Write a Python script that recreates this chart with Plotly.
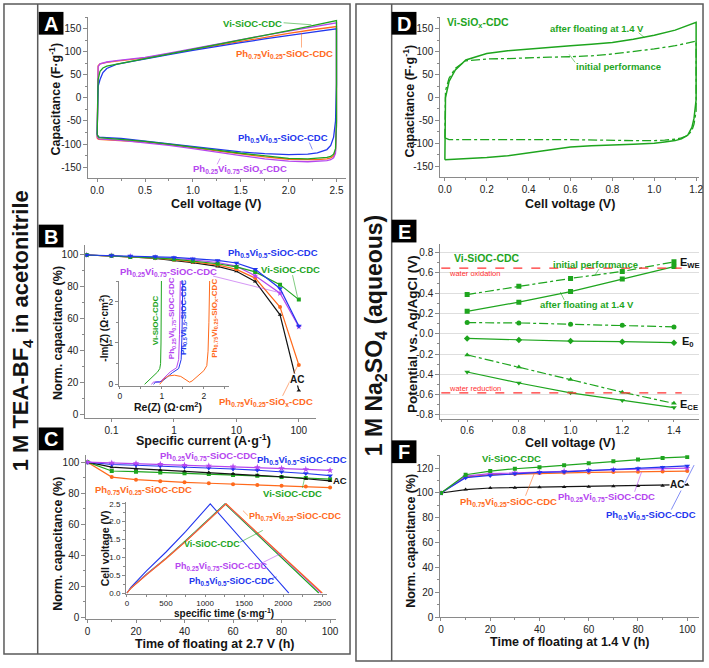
import plotly.graph_objects as go

W, H = 709, 668
FONT = "Liberation Sans, Arial, sans-serif"

GREEN = "#1ea51e"
ORANGE = "#ff6a1c"
BLUE = "#2236ee"
PURPLE = "#b546ef"
BLACK = "#141414"
RED = "#ff3030"
AXC = "#8a8a8a"
FRAME = "#5a5a5a"

# ---------------- Panel A: CV in 1 M TEA-BF4 / acetonitrile ----------------
A_V_UP = [0.0, 0.01, 0.03, 0.06, 0.1, 0.2, 0.35, 0.5, 0.75, 1.0, 1.25, 1.5, 1.75, 2.0, 2.25, 2.5]
A_VI_UP = [-80, 40, 58, 65, 69, 73, 79, 85, 95, 106, 116, 126, 136, 146, 157, 168]
A_PH75_UP = [-88, 70, 74, 76, 77, 80, 83, 87, 96, 105, 114, 123, 132, 140, 148, 155]
A_PH50_UP = [-80, 25, 40, 55, 64, 73, 79, 85, 94, 103, 112, 120, 128, 136, 143, 150]
A_PH25_UP = [-85, 68, 74, 76, 78, 81, 84, 88, 97, 107, 117, 127, 136, 145, 154, 163]
A_V_DN = [2.5, 2.49, 2.47, 2.44, 2.4, 2.3, 2.2, 2.0, 1.75, 1.5, 1.25, 1.0, 0.75, 0.5, 0.25, 0.1, 0.02, 0.0]
A_VI_DN = [-50, -110, -122, -127, -129, -131, -132, -131, -126, -120, -113, -106, -100, -94, -89, -87, -86, -80]
A_PH75_DN = [-60, -115, -126, -130, -132, -134, -134, -133, -128, -122, -115, -108, -101, -96, -92, -91, -90, -88]
A_PH50_DN = [30, -50, -85, -103, -112, -119, -122, -123, -121, -117, -111, -105, -99, -93, -88, -86, -85, -80]
A_PH25_DN = [-60, -120, -130, -134, -136, -138, -138.5, -137, -132, -125, -117, -110, -103, -97, -92, -90, -89, -85]
A_XTICKS = [0.0, 0.5, 1.0, 1.5, 2.0, 2.5]
A_YTICKS = [-150, -100, -50, 0, 50, 100, 150]

# ---------------- Panel B: rate capability ----------------
B_I = [0.04, 0.1, 0.2, 0.5, 1, 2, 5, 10, 20, 50, 100]
B_VI = [100, 99.5, 98.8, 98.2, 97.4, 96.3, 94.5, 92.5, 89.4, 81.4, 72]
B_PH50 = [100, 99.7, 99.4, 99.0, 98.5, 97.7, 96.6, 95.0, 91.0, 79.0, 55.5]
B_PH25 = [100, 99.5, 99.0, 98.5, 97.8, 96.9, 95.3, 93.0, 87.0, 76.0, 55.0]
B_PH75 = [100, 99.4, 98.9, 98.0, 97.0, 95.8, 93.8, 91.0, 85.5, 67.3, 31.0]
B_AC = [100, 99.4, 98.8, 97.8, 96.7, 95.2, 92.8, 89.8, 83.4, 62.5, 15.0]
B_XTICKS = [0.1, 1, 10, 100]
B_XTEXT = ["0.1", "1", "10", "100"]

# Inset B: Nyquist plots
NY_VI_RE = [0.59, 0.7, 0.8, 0.9, 0.95, 0.97, 0.98, 0.99]
NY_VI_IM = [0.0, 0.1, 0.2, 0.3, 0.38, 0.5, 1.0, 2.6]
NY_PH25_RE = [0.75, 0.8, 0.88, 0.95, 1.05, 1.2, 1.35, 1.4, 1.42, 1.44]
NY_PH25_IM = [0.0, 0.05, 0.06, 0.05, 0.15, 0.3, 0.4, 0.6, 1.2, 2.6]
NY_PH50_RE = [0.8, 0.85, 0.95, 1.0, 1.1, 1.25, 1.4, 1.46, 1.48, 1.5]
NY_PH50_IM = [0.0, 0.05, 0.06, 0.07, 0.15, 0.28, 0.38, 0.6, 1.2, 2.6]
NY_PH75_RE = [0.95, 1.05, 1.15, 1.3, 1.45, 1.58, 1.66, 1.72, 1.85, 2.0, 2.07, 2.1, 2.12, 2.14]
NY_PH75_IM = [0.0, 0.13, 0.2, 0.22, 0.19, 0.11, 0.05, 0.08, 0.2, 0.33, 0.45, 0.8, 1.5, 2.6]

# ---------------- Panel C: floating at 2.7 V ----------------
C_T = [0, 10, 20, 30, 40, 50, 60, 70, 80, 90, 100]
C_PH25 = [100, 99.5, 99.2, 98.7, 98.2, 97.7, 97.2, 96.7, 96.1, 95.4, 94.7]
C_PH50 = [100, 98.5, 98.0, 97.5, 96.9, 96.3, 95.6, 94.8, 93.9, 92.7, 91.3]
C_AC = [100, 96.8, 95.8, 95.0, 94.2, 93.4, 92.5, 91.6, 90.6, 89.3, 87.9]
C_VI = [100, 94.3, 93.9, 93.4, 92.9, 92.4, 91.8, 91.2, 90.5, 89.8, 89.0]
C_PH75 = [100, 90.4, 88.7, 87.7, 87.0, 86.4, 85.8, 85.3, 84.8, 84.3, 83.6]

# Inset C: galvanostatic charge/discharge
GC_PH50_T = [0, 50, 250, 500, 750, 1000, 1066, 2072]
GC_PH50_V = [0, 0.16, 0.62, 1.15, 1.72, 2.33, 2.5, 0]
GC_VI_T = [0, 50, 250, 500, 750, 1000, 1255, 2455]
GC_VI_V = [0, 0.14, 0.53, 0.98, 1.47, 1.99, 2.5, 0]
GC_PH25_T = [0, 50, 250, 500, 750, 1000, 1265, 2485]
GC_PH25_V = [0, 0.14, 0.52, 0.97, 1.45, 1.97, 2.5, 0]
GC_PH75_T = [0, 50, 250, 500, 750, 1000, 1270, 2500]
GC_PH75_V = [0, 0.13, 0.51, 0.96, 1.44, 1.96, 2.5, 0]

# ---------------- Panel D: CV in 1 M Na2SO4 ----------------
D_V_UP = [0.0, 0.003, 0.02, 0.05, 0.1, 0.2, 0.3, 0.4, 0.5, 0.6, 0.7, 0.8, 0.9, 1.0, 1.1, 1.15, 1.2]
D_AFTER_UP = [-136, 0, 35, 60, 82, 96, 102, 106, 109, 113, 116, 120, 127, 136, 147, 155, 164]
D_INIT_UP = [-88, 15, 42, 64, 80, 84, 85, 87, 88, 89, 91, 95, 100, 106, 113, 118, 123]
D_V_DN = [1.2, 1.195, 1.19, 1.18, 1.16, 1.13, 1.1, 1.05, 1.0, 0.9, 0.8, 0.7, 0.6, 0.5, 0.4, 0.3, 0.2, 0.1, 0.02, 0.0]
D_AFTER_DN = [-5, -25, -45, -65, -82, -90, -94, -97, -100, -102, -103, -105, -108, -114, -121, -127, -131, -133, -135, -136]
D_INIT_DN = [-30, -45, -58, -72, -83, -88, -91, -93, -94, -94, -93, -93, -92, -92, -92, -92, -91, -92, -92, -88]
D_XTICKS = [0.0, 0.2, 0.4, 0.6, 0.8, 1.0, 1.2]

# ---------------- Panel E: electrode potentials ----------------
E_V = [0.6, 0.8, 1.0, 1.2, 1.4]
E_WE_INIT = [0.387, 0.468, 0.546, 0.615, 0.709]
E_WE_AFTER = [0.221, 0.312, 0.416, 0.54, 0.663]
E_0_INIT = [0.11, 0.107, 0.094, 0.084, 0.068]
E_0_AFTER = [-0.046, -0.062, -0.072, -0.078, -0.088]
E_CE_INIT = [-0.208, -0.328, -0.452, -0.576, -0.686]
E_CE_AFTER = [-0.377, -0.485, -0.582, -0.657, -0.728]
E_WATER_OX = 0.647
E_WATER_RED = -0.583
E_YTICKS = [-0.8, -0.6, -0.4, -0.2, 0.0, 0.2, 0.4, 0.6, 0.8]

# ---------------- Panel F: floating at 1.4 V ----------------
F_T = [0, 10, 20, 30, 40, 50, 60, 70, 80, 90, 100]
F_VI = [100, 114.7, 117.6, 119.5, 120.8, 122.4, 124.0, 125.6, 126.9, 128.2, 129.0]
F_PH50 = [100, 112.3, 114.1, 115.5, 116.5, 117.0, 118.0, 118.7, 119.7, 120.8, 121.8]
F_PH25 = [100, 113.6, 115.5, 116.3, 116.8, 117.6, 118.1, 118.7, 119.2, 119.5, 120.0]
F_PH75 = [100, 112.8, 114.7, 115.2, 116.0, 116.3, 116.5, 116.8, 117.1, 117.3, 117.6]
F_AC = [100, 102.7, 104.0, 104.3, 104.6, 104.9, 105.1, 105.4, 105.6, 105.9, 106.7]

fig = go.Figure()


def ids(n):
    s = "" if n == 1 else str(n)
    return "x" + s, "y" + s


def add(n, xs, ys, color, symbol=None, dash=None, size=4, width=1.2):
    xa, ya = ids(n)
    fig.add_trace(go.Scatter(
        x=xs, y=ys, xaxis=xa, yaxis=ya,
        mode="lines+markers" if symbol else "lines",
        line=dict(color=color, width=width, dash=dash),
        marker=dict(symbol=symbol or "circle", size=size, color=color, line=dict(width=0)),
        showlegend=False, hoverinfo="skip"))


def loop(vup, yup, vdn, ydn):
    return vup + vdn + [vup[0]], yup + ydn + [yup[0]]


# Panel A
for up, dn, c in [(A_PH75_UP, A_PH75_DN, ORANGE), (A_PH25_UP, A_PH25_DN, PURPLE),
                  (A_PH50_UP, A_PH50_DN, BLUE), (A_VI_UP, A_VI_DN, GREEN)]:
    xs, ys = loop(A_V_UP, up, A_V_DN, dn)
    add(1, xs, ys, c, width=1.3)

# Panel B
add(2, B_I, B_AC, BLACK, "triangle-up", size=4)
add(2, B_I, B_PH75, ORANGE, "circle", size=4)
add(2, B_I, B_PH25, PURPLE, "star", size=5)
add(2, B_I, B_VI, GREEN, "square", size=4)
add(2, B_I, B_PH50, BLUE, "triangle-down", size=5)

# Inset B
add(3, NY_VI_RE, NY_VI_IM, GREEN, width=1)
add(3, NY_PH25_RE, NY_PH25_IM, PURPLE, width=1)
add(3, NY_PH50_RE, NY_PH50_IM, BLUE, width=1)
add(3, NY_PH75_RE, NY_PH75_IM, ORANGE, width=1)

# Panel C
add(4, C_T, C_PH75, ORANGE, "circle", size=4)
add(4, C_T, C_VI, GREEN, "square", size=4)
add(4, C_T, C_AC, BLACK, "triangle-up", size=4)
add(4, C_T, C_PH50, BLUE, "triangle-down", size=5)
add(4, C_T, C_PH25, PURPLE, "star", size=5)

# Inset C
add(5, GC_PH50_T, GC_PH50_V, BLUE, width=1.1)
add(5, GC_VI_T, GC_VI_V, GREEN, width=1.1)
add(5, GC_PH25_T, GC_PH25_V, PURPLE, width=1.1)
add(5, GC_PH75_T, GC_PH75_V, ORANGE, width=1.1)

# Panel D
xs, ys = loop(D_V_UP, D_INIT_UP, D_V_DN, D_INIT_DN)
add(6, xs, ys, GREEN, dash="dashdot", width=1.3)
xs, ys = loop(D_V_UP, D_AFTER_UP, D_V_DN, D_AFTER_DN)
add(6, xs, ys, GREEN, width=1.5)

# Panel E
add(7, E_V, E_WE_INIT, GREEN, "square", dash="dashdot", size=5)
add(7, E_V, E_WE_AFTER, GREEN, "square", size=5)
add(7, E_V, E_0_INIT, GREEN, "circle", dash="dashdot", size=5)
add(7, E_V, E_0_AFTER, GREEN, "diamond", size=5)
add(7, E_V, E_CE_INIT, GREEN, "triangle-up", dash="dashdot", size=5)
add(7, E_V, E_CE_AFTER, GREEN, "triangle-down", size=5)

# Panel F
add(8, F_T, F_AC, BLACK, "triangle-up", size=4)
add(8, F_T, F_PH75, ORANGE, "circle", size=4)
add(8, F_T, F_PH25, PURPLE, "star", size=5)
add(8, F_T, F_PH50, BLUE, "triangle-down", size=5)
add(8, F_T, F_VI, GREEN, "square", size=4)

layout = dict(width=W, height=H, margin=dict(l=0, r=0, t=0, b=0),
              paper_bgcolor="white", plot_bgcolor="rgba(0,0,0,0)",
              font=dict(family=FONT, color="#222"), showlegend=False)


def axes(n, px, py, xr, yr, xkw=None, ykw=None, fs=10):
    xs = "" if n == 1 else str(n)
    base = dict(showline=True, linecolor=AXC, linewidth=1, ticks="outside", ticklen=4,
                tickwidth=1, tickcolor=AXC, tickfont=dict(size=fs, color="#222", family=FONT),
                showgrid=False, zeroline=False, fixedrange=True)
    xa = dict(base, domain=[px[0] / W, px[1] / W], range=xr, anchor="y" + xs, ticklen=3)
    xa.update(xkw or {})
    ya = dict(base, domain=[1 - py[1] / H, 1 - py[0] / H], range=yr, anchor="x" + xs)
    ya.update(ykw or {})
    layout["xaxis" + xs] = xa
    layout["yaxis" + xs] = ya


def minor(d):
    return dict(ticks="outside", ticklen=2, tickcolor=AXC, dtick=d)


def fmt(vals, nd):
    return [("%." + str(nd) + "f") % v for v in vals]


axes(1, (87, 347), (15, 178), [-0.093, 2.6], [-174, 176],
     dict(tickvals=A_XTICKS, ticktext=fmt(A_XTICKS, 1), minor=dict(ticks="outside", ticklen=2, tickcolor=AXC, tickmode="linear", tick0=0.25, dtick=0.5)),
     dict(tickvals=A_YTICKS, ticktext=fmt(A_YTICKS, 0), minor=dict(ticks="outside", ticklen=2, tickcolor=AXC, tickmode="linear", tick0=25, dtick=50)))
axes(2, (84, 317), (246, 420), [-1.42, 2.28], [-2, 106],
     dict(type="log", tickvals=B_XTICKS, ticktext=B_XTEXT),
     dict(tick0=0, dtick=20, minor=minor(10)))
axes(3, (118, 229), (282, 388), [-0.02, 2.6], [-0.04, 2.5],
     dict(tick0=0, dtick=1, minor=minor(0.5), ticklen=2), dict(tick0=0, dtick=1, minor=minor(0.5), ticklen=3), fs=8.5)
axes(4, (85, 337), (458, 624), [-0.5, 102.5], [-1.5, 104.5],
     dict(tick0=0, dtick=20, minor=minor(10)), dict(tick0=0, dtick=20, minor=minor(10)))
axes(5, (125, 328), (505, 598), [-13, 2563], [-0.02, 2.56],
     dict(tick0=0, dtick=500, minor=minor(250), ticklen=2),
     dict(tick0=0, dtick=0.5, tickformat=".1f", minor=minor(0.25), ticklen=3), fs=8)
axes(6, (442, 703), (15, 177), [-0.022, 1.214], [-173.7, 176],
     dict(tickvals=D_XTICKS, ticktext=fmt(D_XTICKS, 1), minor=dict(ticks="outside", ticklen=2, tickcolor=AXC, tickmode="linear", tick0=0.1, dtick=0.2)),
     dict(tickvals=A_YTICKS, ticktext=fmt(A_YTICKS, 0), minor=dict(ticks="outside", ticklen=2, tickcolor=AXC, tickmode="linear", tick0=25, dtick=50)))
axes(7, (442, 703), (245, 421.7), [0.496, 1.497], [-0.843, 0.881],
     dict(tick0=0.6, dtick=0.2, tickformat=".1f", minor=minor(0.1), ticklen=2),
     dict(tickvals=E_YTICKS, ticktext=fmt(E_YTICKS, 1), showgrid=True, gridcolor="#dedede", gridwidth=1,
          minor=dict(ticks="outside", ticklen=2, tickcolor=AXC, tickmode="linear", tick0=0.1, dtick=0.2)))
axes(8, (442, 703), (458, 622), [-0.3, 104.8], [-0.2, 130.4],
     dict(tick0=0, dtick=20, minor=minor(10)), dict(tick0=0, dtick=20, minor=minor(10)))

ANN = []
SHAPES = []


def label(xp, yp, text, color=BLACK, size=9.5, xanchor="left", angle=0, bold=True, bg=None):
    a = dict(x=xp / W, y=1 - yp / H, xref="paper", yref="paper",
             text=("<b>%s</b>" % text) if bold else text, showarrow=False,
             font=dict(size=size, color=color, family=FONT), xanchor=xanchor,
             yanchor="middle", textangle=angle, borderpad=0)
    if bg:
        a["bgcolor"] = bg
    ANN.append(a)


def leader(x0, y0, x1, y1, color):
    SHAPES.append(dict(type="line", xref="paper", yref="paper", x0=x0 / W, y0=1 - y0 / H,
                       x1=x1 / W, y1=1 - y1 / H, line=dict(color=color, width=0.8), opacity=0.7))


def rect(x0, y0, x1, y1, color, fill=None, width=1.5):
    SHAPES.append(dict(type="rect", xref="paper", yref="paper", x0=x0 / W, y0=1 - y1 / H,
                       x1=x1 / W, y1=1 - y0 / H, line=dict(color=color, width=width),
                       fillcolor=fill or "rgba(0,0,0,0)", layer="below"))


def vline(x, y0, y1, color, width=1.5):
    SHAPES.append(dict(type="line", xref="paper", yref="paper", x0=x / W, x1=x / W,
                       y0=1 - y0 / H, y1=1 - y1 / H, line=dict(color=color, width=width)))


PH75 = "Ph<sub>0.75</sub>Vi<sub>0.25</sub>"
PH50 = "Ph<sub>0.5</sub>Vi<sub>0.5</sub>"
PH25 = "Ph<sub>0.25</sub>Vi<sub>0.75</sub>"

# frames
rect(2, 2, 351, 659, FRAME)
vline(36, 2, 659, FRAME)
rect(357, 2, 707, 666, FRAME)
vline(393, 2, 666, FRAME)

# panel letters
for (lx, ly, L) in [(37, 10, "A"), (37, 225, "B"), (37, 430, "C"),
                    (393, 10, "D"), (393, 220, "E"), (393, 443, "F")]:
    SHAPES.append(dict(type="rect", xref="paper", yref="paper", x0=lx / W, x1=(lx + 25) / W,
                       y0=1 - (ly + 23) / H, y1=1 - ly / H, line=dict(width=0), fillcolor="black"))
    label(lx + 12.5, ly + 12, L, "white", 20, "center")

# big vertical titles
label(20, 332, "1 M TEA-BF<sub>4</sub> in acetonitrile", BLACK, 22, "center", -90)
label(377, 337, "1 M Na<sub>2</sub>SO<sub>4</sub> (aqueous)", BLACK, 23, "center", -90)

# axis titles
label(216, 204, "Cell voltage (V)", BLACK, 12.5, "center")
label(53, 98, "Capacitance (F·g<sup>-1</sup>)", BLACK, 12.5, "center", -90)
label(203, 443, "Specific current (A·g<sup>-1</sup>)", BLACK, 12.5, "center")
label(57, 335, "Norm. capacitance (%)", BLACK, 12.5, "center", -90)
label(215, 649, "Time of floating at 2.7 V (h)", BLACK, 12.5, "center")
label(57, 548, "Norm. capacitance (%)", BLACK, 12.5, "center", -90)
label(573, 204, "Cell voltage (V)", BLACK, 12.5, "center")
label(410, 100, "Capacitance (F·g<sup>-1</sup>)", BLACK, 12.5, "center", -90)
label(573, 446, "Cell voltage (V)", BLACK, 12.5, "center")
label(414, 335, "Potential vs. Ag/AgCl (V)", BLACK, 13.5, "center", -90)
label(573, 647, "Time of floating at 1.4 V (h)", BLACK, 12.5, "center")
label(413, 545, "Norm. capacitance (%)", BLACK, 12.5, "center", -90)

# inset titles
label(102, 330, "-Im(Z) (Ω·cm<sup>2</sup>)", BLACK, 10, "center", -90)
label(167, 409, "Re(Z) (Ω·cm<sup>2</sup>)", BLACK, 10.5, "center")
label(104, 552, "Cell voltage (V)", BLACK, 10.5, "center", -90)
label(224, 617.5, "specific time (s·mg<sup>-1</sup>)", BLACK, 10, "center")

# Panel A labels
label(222, 22, "Vi-SiOC-CDC", GREEN)
leader(284, 21, 312, 23, GREEN)
label(235, 53, PH75 + "-SiOC-CDC", ORANGE)
leader(302, 46, 302, 31, ORANGE)
label(237, 137, PH50 + "-SiOC-CDC", BLUE)
leader(310, 142, 313, 149, BLUE)
label(192, 169, PH25 + "-SiO<sub>x</sub>-CDC", PURPLE)
leader(217, 164, 220, 158, PURPLE)

# Panel B labels
label(227, 254, PH50 + "-SiOC-CDC", BLUE)
label(260, 270, "Vi-SiOC-CDC", GREEN)
leader(293, 276, 298, 298, GREEN)
label(118, 273, PH25 + "-SiOC-CDC", PURPLE)
leader(213, 277, 277, 293, PURPLE)
label(218, 404, PH75 + "-SiO<sub>x</sub>-CDC", ORANGE)
leader(283, 398, 298, 368, ORANGE)
label(298, 382, "AC", BLACK, 10, "center", bg="white")
label(155, 322, "Vi-SiOC-CDC", GREEN, 8, "center", -90)
label(171, 320, PH25 + "-SiOC-CDC", PURPLE, 8, "center", -90)
label(183, 318, PH50 + "-SiOC-CDC", BLUE, 8, "center", -90)
label(214, 320, PH75 + "-SiO<sub>x</sub>-CDC", ORANGE, 8, "center", -90)

# Panel C labels
label(158, 459, PH25 + "-SiOC-CDC", PURPLE)
label(256, 463, PH50 + "-SiOC-CDC", BLUE)
label(333, 484, "AC", BLACK)
label(93, 493, PH75 + "-SiOC-CDC", ORANGE)
label(262, 497, "Vi-SiOC-CDC", GREEN)
leader(303, 491, 305, 482, GREEN)
label(248, 520, PH75 + "-SiOC-CDC", ORANGE, 9)
leader(248, 519, 243, 514, ORANGE)
label(183, 548, "Vi-SiOC-CDC", GREEN, 9)
leader(240, 546, 263, 534, GREEN)
label(173, 570, PH25 + "-SiOC-CDC", PURPLE, 9)
leader(260, 568, 282, 557, PURPLE)
label(188, 586, PH50 + "-SiOC-CDC", BLUE, 9)
leader(268, 584, 277, 581, BLUE)

# Panel D labels
label(448, 21, "Vi-SiO<sub>x</sub>-CDC", GREEN, 10.5)
label(552, 27, "after floating at 1.4 V", GREEN, 9.5)
leader(642, 31, 648, 36, GREEN)
label(578, 65, "initial performance", GREEN, 9.5)
leader(578, 61, 572, 53, GREEN)

# Panel E labels
label(455, 259, "Vi-SiOC-CDC", GREEN, 10.5)
label(450, 274, "water oxidation", RED, 7.5, bold=False)
label(555, 265, "initial performance", GREEN, 9.5)
leader(602, 270, 598, 276, GREEN)
label(542, 306, "after floating at 1.4 V", GREEN, 9.5)
leader(567, 301, 563, 293, GREEN)
label(450, 391, "water reduction", RED, 7.5, bold=False)
label(683, 264, "E<sub>WE</sub>", BLACK, 11)
label(685, 344, "E<sub>0</sub>", BLACK, 11)
label(683, 407, "E<sub>CE</sub>", BLACK, 11)
for yv in (E_WATER_OX, E_WATER_RED):
    SHAPES.append(dict(type="line", xref="x7", yref="y7", x0=0.5, x1=1.43, y0=yv, y1=yv,
                       line=dict(color=RED, width=1.2, dash="dash")))

# Panel F labels
label(483, 461, "Vi-SiOC-CDC", GREEN)
label(461, 505, PH75 + "-SiOC-CDC", ORANGE)
leader(528, 499, 537, 476, ORANGE)
label(560, 500, PH25 + "-SiOC-CDC", PURPLE)
leader(638, 495, 645, 475, PURPLE)
label(608, 518, PH50 + "-SiOC-CDC", BLUE)
leader(675, 513, 698, 468, BLUE)
label(673, 488, "AC", BLACK, 10, bg="white")

layout["annotations"] = ANN
layout["shapes"] = SHAPES
fig.update_layout(**layout)
fig.write_html("out.html", config={"displayModeBar": False},
               post_script="document.body.style.margin='0px';document.body.style.padding='0px';")
